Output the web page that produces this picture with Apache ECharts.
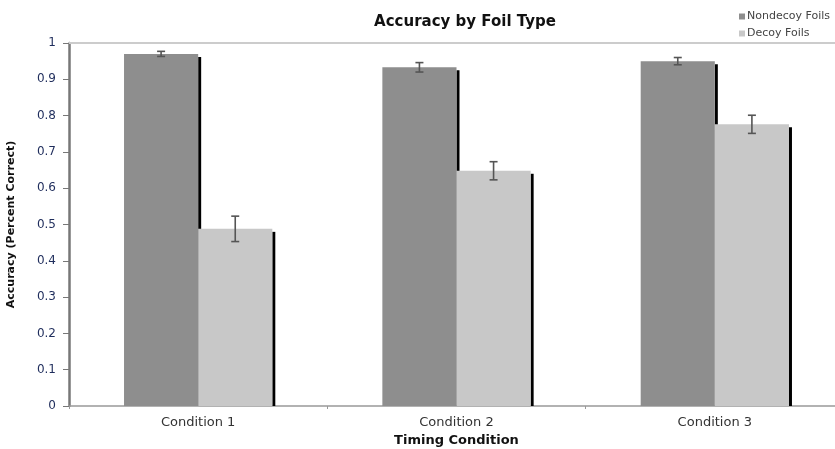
<!DOCTYPE html>
<html>
<head>
<meta charset="utf-8">
<script src="https://cdn.jsdelivr.net/npm/echarts@6/dist/echarts.min.js"></script>
<style>html,body{margin:0;padding:0;background:#fff;}#c{width:835px;height:449px;}</style>
</head>
<body>
<div id="c"></div>
<script>
const categories = ['Condition 1', 'Condition 2', 'Condition 3'];
const nondecoy = [0.970, 0.933, 0.950];
const nondecoyErr = [0.007, 0.013, 0.010];
const decoy = [0.488, 0.648, 0.776];
const decoyErr = [0.035, 0.025, 0.025];
const seriesNames = ['Nondecoy Foils', 'Decoy Foils'];
const yTicks = { min: 0, max: 1, interval: 0.1 };

const BAR_FRAC = 0.287;
const FONT = 'DejaVu Sans';

function errData(vals, errs) { return vals.map((v, i) => [i, v, errs[i]]); }

function errorRenderer(side) {
  return function (params, api) {
    const i = api.value(0), v = api.value(1), e = api.value(2);
    const band = api.size([1, 0])[0];
    const off = side * band * BAR_FRAC / 2;
    const top = api.coord([i, v + e]);
    const bot = api.coord([i, v - e]);
    const x = top[0] + off;
    const cap = 4;
    const st = { stroke: '#555', lineWidth: 1.6 };
    return { type: 'group', children: [
      { type: 'line', shape: { x1: x, y1: top[1], x2: x, y2: bot[1] }, style: st },
      { type: 'line', shape: { x1: x - cap, y1: top[1], x2: x + cap, y2: top[1] }, style: st },
      { type: 'line', shape: { x1: x - cap, y1: bot[1], x2: x + cap, y2: bot[1] }, style: st }
    ]};
  };
}

function shadowRenderer(side) {
  return function (params, api) {
    const i = api.value(0), v = api.value(1);
    const band = api.size([1, 0])[0];
    const bw = band * BAR_FRAC;
    const p = api.coord([i, v]);
    const z = api.coord([i, 0]);
    const right = p[0] + (side > 0 ? bw : 0);
    return { type: 'rect', shape: { x: right, y: p[1] + 3, width: 3, height: z[1] - p[1] - 3 },
      style: { fill: '#000' } };
  };
}

const chart = echarts.init(document.getElementById('c'));
chart.setOption({
  animation: false,
  backgroundColor: '#fff',
  title: {
    text: 'Accuracy by Foil Type', left: 460, top: 10, textAlign: 'center',
    textStyle: { fontFamily: FONT, fontSize: 15, fontWeight: 'bold', color: '#111' }
  },
  legend: {
    data: seriesNames, orient: 'vertical', right: 0, top: 6,
    itemWidth: 6, itemHeight: 6, itemGap: 6, icon: 'rect',
    textStyle: { fontFamily: FONT, fontSize: 11, color: '#444', padding: [0, 0, 0, -3] }
  },
  grid: { left: 69, width: 775, top: 43, bottom: 43, containLabel: false, outerBoundsMode: 'none' },
  xAxis: [{
    type: 'category', data: categories,
    axisLine: { lineStyle: { color: '#999', width: 1.5 } },
    axisTick: { show: true, length: 3, lineStyle: { color: '#999' } },
    axisLabel: { fontFamily: FONT, fontSize: 13, color: '#333', margin: 10 },
    name: 'Timing Condition', nameLocation: 'middle', nameGap: 24,
    nameTextStyle: { fontFamily: FONT, fontSize: 13, fontWeight: 'bold', color: '#111' }
  }, {
    type: 'category', data: categories, position: 'top',
    axisLine: { lineStyle: { color: '#ccc', width: 2 } },
    axisTick: { show: false }, axisLabel: { show: false }
  }],
  yAxis: {
    type: 'value', min: yTicks.min, max: yTicks.max, interval: yTicks.interval,
    axisLine: { show: true, lineStyle: { color: '#777', width: 2.5 } },
    axisTick: { show: true, length: 6, lineStyle: { color: '#777' } },
    splitLine: { show: false },
    axisLabel: { fontFamily: FONT, fontSize: 12, color: '#1f2d5c', margin: 13,
      formatter: v => String(+v.toFixed(1)) },
    name: 'Accuracy (Percent Correct)', nameLocation: 'middle', nameGap: 52,
    nameTextStyle: { fontFamily: FONT, fontSize: 11, fontWeight: 'bold', color: '#111' }
  },
  series: [
    { type: 'custom', name: 'shadowN', z: 1, data: nondecoy.map((v, i) => [i, v]),
      renderItem: shadowRenderer(-1), silent: true },
    { type: 'custom', name: 'shadowD', z: 1, data: decoy.map((v, i) => [i, v]),
      renderItem: shadowRenderer(1), silent: true },
    { type: 'bar', name: seriesNames[0], data: nondecoy, barWidth: (BAR_FRAC * 100) + '%', barGap: '0%',
      itemStyle: { color: '#8e8e8e' }, z: 2 },
    { type: 'bar', name: seriesNames[1], data: decoy, barWidth: (BAR_FRAC * 100) + '%', barGap: '0%',
      itemStyle: { color: '#c8c8c8' }, z: 2 },
    { type: 'custom', name: 'errN', z: 3, data: errData(nondecoy, nondecoyErr),
      renderItem: errorRenderer(-1), silent: true },
    { type: 'custom', name: 'errD', z: 3, data: errData(decoy, decoyErr),
      renderItem: errorRenderer(1), silent: true }
  ]
});
</script>
</body>
</html>
